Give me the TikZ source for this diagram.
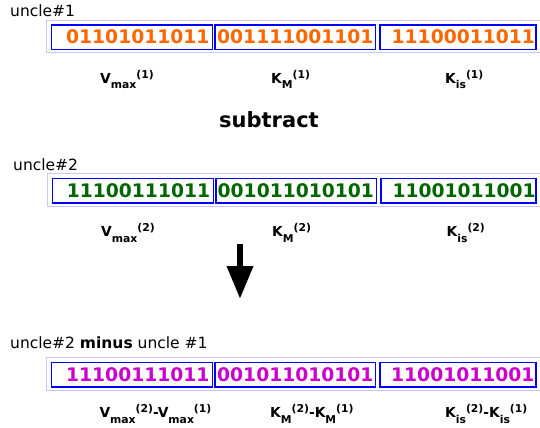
\documentclass[tikz,border=0pt]{standalone}
\usepackage{fontspec}
\setmainfont{DejaVu Sans}
\usetikzlibrary{arrows.meta}
\definecolor{borange}{HTML}{FF6600}
\definecolor{bgreen}{HTML}{006600}
\definecolor{bmag}{HTML}{CC00CC}
\definecolor{bblue}{HTML}{0000FF}
\definecolor{lblue}{HTML}{C8C8FF}
\newcommand\mysub[1]{\raisebox{-5.5bp}{\fontsize{10.8bp}{12bp}\selectfont #1}}
\newcommand\mysup[1]{\raisebox{5bp}{\fontsize{10.8bp}{12bp}\selectfont #1}}
\tikzset{
  bitbox/.style={draw=bblue, line width=1.5bp, inner sep=0pt, minimum height=24.5bp},
  bits/.style={anchor=base west, inner sep=0pt, font=\fontsize{18.7bp}{20bp}\selectfont\bfseries},
  tag/.style={anchor=base west, inner sep=0pt, font=\fontsize{15.5bp}{18bp}\selectfont},
  lab/.style={anchor=base west, inner sep=0pt, font=\fontsize{13.8bp}{16bp}\selectfont\bfseries},
  frame/.style={draw=lblue, line width=1bp},
}
\begin{document}
\begin{tikzpicture}[x=1bp,y=-1bp]
\path[use as bounding box] (0,0) rectangle (540,427);

% ---------- row 1 ----------
\node[tag] (t1) at (10,16.7) {uncle\#1};
\draw[frame] (541,20) -- (46.5,20) -- (46.5,52.5) -- (541,52.5);
\node[bitbox, minimum width=161bp] (a1) at (132,37.2) {};
\node[bitbox, minimum width=160.5bp] (b1) at (295.25,37.2) {};
\node[bitbox, minimum width=156bp] (c1) at (458,37.2) {};
\node[bits, text=borange] (a1t) at (66,43.3) {01101011011};
\node[bits, text=borange] (b1t) at (217,43.3) {001111001101};
\node[bits, text=borange] (c1t) at (391.5,43.3) {11100011011};
\node[lab] (v1) at (100,83.3) {V\mysub{max}\mysup{(1)}};
\node[lab] (km1) at (271,83.3) {K\mysub{M}\mysup{(1)}};
\node[lab] (ki1) at (445,83.3) {K\mysub{is}\mysup{(1)}};

\node[anchor=base west, inner sep=0pt, font=\fontsize{21bp}{24bp}\selectfont\bfseries] (sub) at (219,127.5) {subtract};

% ---------- row 2 ----------
\node[tag] (t2) at (13,170.7) {uncle\#2};
\draw[frame] (541,173) -- (47.5,173) -- (47.5,206) -- (541,206);
\node[bitbox, minimum width=161bp] (a2) at (133,190.5) {};
\node[bitbox, minimum width=160.5bp] (b2) at (296,190.5) {};
\node[bitbox, minimum width=155bp] (c2) at (458.5,190.5) {};
\node[bits, text=bgreen] (a2t) at (66.7,197.3) {11100111011};
\node[bits, text=bgreen] (b2t) at (217.5,197.3) {001011010101};
\node[bits, text=bgreen] (c2t) at (392.3,197.3) {11001011001};
\node[lab] (v2) at (101,236.8) {V\mysub{max}\mysup{(2)}};
\node[lab] (km2) at (272,236.8) {K\mysub{M}\mysup{(2)}};
\node[lab] (ki2) at (446.5,236.8) {K\mysub{is}\mysup{(2)}};

% ---------- arrow ----------
\coordinate (arrtop) at (240,244);
\coordinate (arrbot) at (240,299);
\draw[line width=6.6bp, -{Triangle[width=25bp,length=33bp]}] (arrtop) -- (arrbot);

% ---------- row 3 ----------
\node[tag] (t3) at (10,348) {uncle\#2 \textbf{minus} uncle \#1};
\draw[frame] (541,357) -- (46.5,357) -- (46.5,390) -- (541,390);
\node[bitbox, minimum width=161bp] (a3) at (132,374.5) {};
\node[bitbox, minimum width=160.5bp] (b3) at (295.25,374.5) {};
\node[bitbox, minimum width=156bp] (c3) at (458,374.5) {};
\node[bits, text=bmag] (a3t) at (66,381) {11100111011};
\node[bits, text=bmag] (b3t) at (217,381) {001011010101};
\node[bits, text=bmag] (c3t) at (391,381) {11001011001};
\node[lab] (v3) at (99.3,417.5) {V\mysub{max}\mysup{(2)}-V\mysub{max}\mysup{(1)}};
\node[lab] (km3) at (270,417.5) {K\mysub{M}\mysup{(2)}-K\mysub{M}\mysup{(1)}};
\node[lab] (ki3) at (445,417.5) {K\mysub{is}\mysup{(2)}-K\mysub{is}\mysup{(1)}};
\end{tikzpicture}
\end{document}
